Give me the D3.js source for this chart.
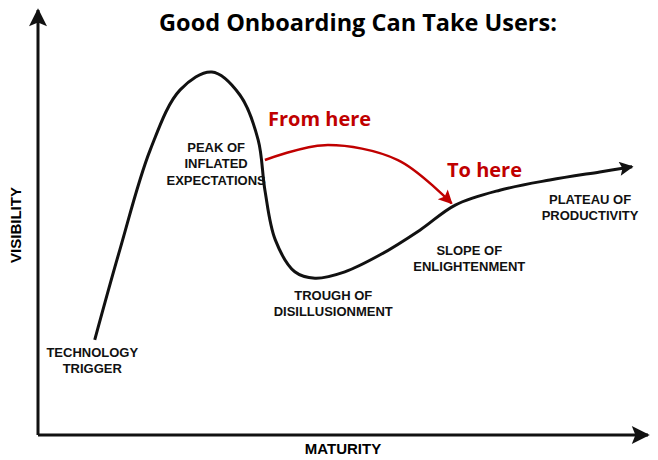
<!DOCTYPE html><html><head><meta charset="utf-8">
<script src="https://cdn.jsdelivr.net/npm/d3@7"></script>
<style>body{margin:0;background:#fff}</style></head><body><svg id="c" width="658" height="460"></svg>
<script>
const curveX=[9.3,13.4,18.4,23.3,28.5,33.1,36.1,37.2,38.9,42.1,45.4,50.3,56.1,62.6,68.4,75.7,83.9,92.1,97.4];
const curveY=[22.4,43.5,67.1,81.2,85.4,80,69.4,57.6,45.9,38.4,36.9,38.4,42.4,48.2,54.1,57.6,60,61.9,63.1];
const arrowX=[37.2,47,59,67.8];
const arrowY=[64.7,68.2,64.7,54.5];
const phaseLabels=[["TECHNOLOGY","TRIGGER"],["PEAK OF","INFLATED","EXPECTATIONS"],["TROUGH OF","DISILLUSIONMENT"],["SLOPE OF","ENLIGHTENMENT"],["PLATEAU OF","PRODUCTIVITY"]];
const labelX=[8.9,29.2,48.4,70.7,90.5];
const labelY=[18.4,66.6,31.8,42.4,54.4];
const svg=d3.select("#c");
const x=d3.scaleLinear([0,100],[38,648]);
const y=d3.scaleLinear([0,100],[435,10]);
const defs=svg.append("defs");
function mk(id,c,w,h){defs.append("marker").attr("id",id).attr("viewBox","0 0 10 10").attr("refX",9).attr("refY",5)
 .attr("markerWidth",w).attr("markerHeight",h).attr("markerUnits","userSpaceOnUse").attr("orient","auto")
 .append("path").attr("d","M0,0L10,5L0,10L2,5Z").attr("fill",c);}
mk("ak","#111",22,18);mk("ar","#c00000",16,14);mk("ac","#111",18,14);
svg.append("path").attr("d",`M${x(0)},${y(0)}V${y(100)}`).attr("stroke","#111").attr("stroke-width",3).attr("marker-end","url(#ak)");
svg.append("path").attr("d",`M${x(0)},${y(0)}H${x(100)}`).attr("stroke","#111").attr("stroke-width",3).attr("marker-end","url(#ak)");
const pts=curveX.map((v,i)=>[x(v),y(curveY[i])]);
svg.append("path").attr("d",d3.line().curve(d3.curveCatmullRom)(pts)).attr("fill","none").attr("stroke","#111").attr("stroke-width",3).attr("marker-end","url(#ac)");
const apts=arrowX.map((v,i)=>[x(v),y(arrowY[i])]);
svg.append("path").attr("d",d3.line().curve(d3.curveCatmullRom)(apts)).attr("fill","none").attr("stroke","#c00000").attr("stroke-width",2.5).attr("marker-end","url(#ar)");
phaseLabels.forEach((ls,i)=>{const t=svg.append("text").attr("x",x(labelX[i])).attr("y",y(labelY[i])).attr("text-anchor","middle")
 .attr("font-family","Liberation Sans, Arial").attr("font-weight","bold").attr("font-size",13).attr("fill","#111");
 ls.forEach((l,j)=>t.append("tspan").attr("x",x(labelX[i])).attr("dy",j?16.5:0).text(l));});
svg.append("text").attr("x",343).attr("y",454).attr("text-anchor","middle").attr("font-family","Liberation Sans, Arial").attr("font-weight","bold").attr("font-size",15).text("MATURITY");
svg.append("text").attr("transform","translate(21,225) rotate(-90)").attr("text-anchor","middle").attr("font-family","Liberation Sans, Arial").attr("font-weight","bold").attr("font-size",15).text("VISIBILITY");
svg.append("text").attr("x",358).attr("y",31).attr("text-anchor","middle").attr("font-family","Open Sans, sans-serif").attr("font-weight","bold").attr("font-size",23.5).text("Good Onboarding Can Take Users:");
svg.append("text").attr("x",268).attr("y",126).attr("font-family","Open Sans, sans-serif").attr("font-weight","bold").attr("font-size",20).attr("fill","#c00000").text("From here");
svg.append("text").attr("x",447).attr("y",177).attr("font-family","Open Sans, sans-serif").attr("font-weight","bold").attr("font-size",20).attr("fill","#c00000").text("To here");
</script></body></html>
